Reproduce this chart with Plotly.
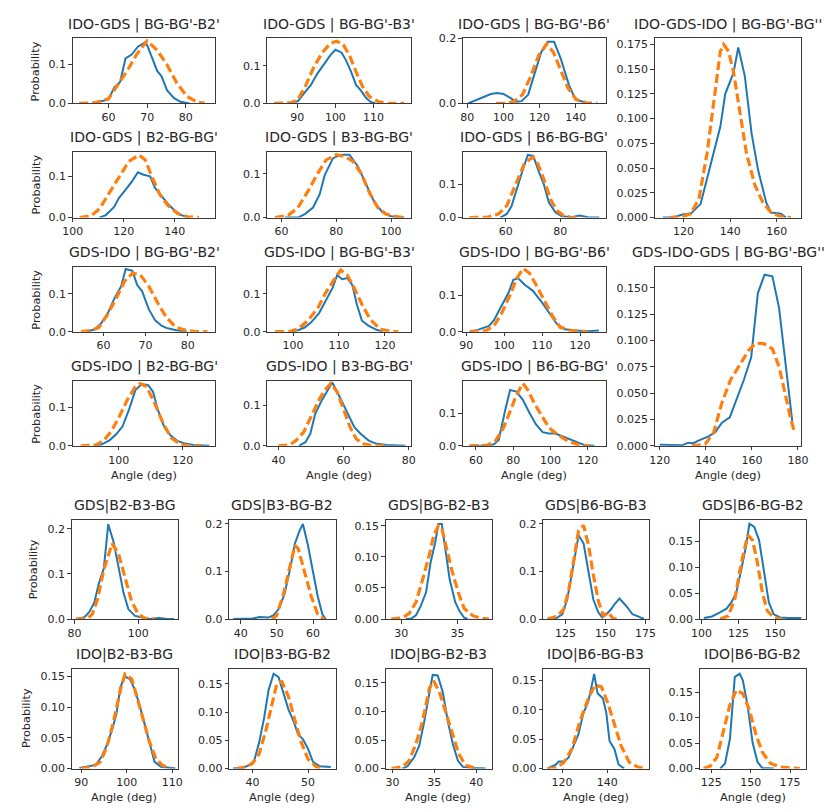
import plotly.graph_objects as go

# ---------------- data ----------------
# Top block: IDO-GDS / GDS-IDO pair angles
t_ido_gds_bg_b2p = "IDO-GDS | BG-BG'-B2'"
A_bx = [55.8, 58, 60, 61.5, 63, 64.4, 66, 67.6, 69.3, 70, 71.5, 72.6, 73.7, 75.2, 76.9, 78.6, 81]
A_by = [0, 0.005, 0.01, 0.041, 0.055, 0.115, 0.125, 0.145, 0.155, 0.149, 0.11, 0.083, 0.07, 0.033, 0.014, 0.004, 0]
A_ox = [52.4, 56.6, 60, 62.5, 65, 67.2, 70, 72.6, 75.2, 77.7, 80.3, 82.8, 84.9]
A_oy = [0, 0.002, 0.012, 0.048, 0.086, 0.124, 0.16, 0.136, 0.098, 0.052, 0.018, 0.004, 0]

t_ido_gds_bg_b3p = "IDO-GDS | BG-BG'-B3'"
B_bx = [87.6, 90.2, 91.9, 93.6, 95.3, 97, 98.7, 100, 101.6, 102.8, 104.1, 105.4, 106.7, 108, 109.2, 110.5]
B_by = [0, 0.006, 0.028, 0.049, 0.079, 0.105, 0.128, 0.142, 0.135, 0.114, 0.084, 0.049, 0.034, 0.015, 0.004, 0]
B_ox = [84, 88.5, 90.2, 92.3, 94.4, 96.6, 98.7, 100.3, 102, 103.7, 105.4, 107.1, 108.8, 111.4, 114, 118]
B_oy = [0, 0.002, 0.01, 0.049, 0.097, 0.135, 0.159, 0.165, 0.157, 0.127, 0.084, 0.045, 0.019, 0.004, 0, 0]

t_ido_gds_bg_b6p = "IDO-GDS | BG-BG'-B6'"
C_bx = [80.4, 84, 88.5, 93, 96.6, 100, 103.8, 107, 110, 113.7, 116.4, 120.9, 124.5, 128, 131.7, 136.2, 139.8, 143.4, 147]
C_by = [0, 0.009, 0.019, 0.029, 0.032, 0.029, 0.017, 0.005, 0.007, 0.027, 0.077, 0.158, 0.19, 0.19, 0.138, 0.057, 0.012, 0.005, 0]
C_ox = [96, 102, 106, 110.5, 115, 119.5, 124, 127.6, 131.3, 135.7, 140.3, 145.7, 152]
C_oy = [0, 0, 0.007, 0.027, 0.082, 0.148, 0.183, 0.158, 0.108, 0.047, 0.012, 0.002, 0]

t_ido_gds_b2_bg = "IDO-GDS | B2-BG-BG'"
D_bx = [110.5, 113, 116.2, 118.2, 120.8, 123.3, 125.6, 127.8, 130.4, 132.3, 134.9, 137.4, 140, 142.6, 145.8]
D_by = [0, 0.006, 0.025, 0.048, 0.068, 0.088, 0.11, 0.104, 0.1, 0.072, 0.052, 0.033, 0.017, 0.006, 0]
D_ox = [102.8, 107.3, 110.5, 114.4, 118.2, 122, 126, 128.5, 131, 134.2, 137.4, 141.3, 145.1, 149.6]
D_oy = [0, 0.005, 0.021, 0.06, 0.1, 0.136, 0.152, 0.14, 0.1, 0.056, 0.029, 0.009, 0.002, 0]

t_ido_gds_b3_bg = "IDO-GDS | B3-BG-BG'"
E_bx = [61.2, 66, 68.5, 71.5, 73.9, 75.8, 78.8, 81.8, 84.8, 87.9, 90.9, 93.9, 96.9, 99.9, 104.8]
E_by = [0, 0, 0.008, 0.023, 0.053, 0.098, 0.136, 0.144, 0.144, 0.117, 0.076, 0.035, 0.012, 0.003, 0]
E_ox = [57.6, 62.4, 66, 69.7, 73.3, 76.3, 80, 83, 86, 89, 92.1, 95.1, 98.1, 101.7, 104.8]
E_oy = [0, 0.005, 0.023, 0.061, 0.102, 0.132, 0.144, 0.14, 0.129, 0.102, 0.057, 0.023, 0.008, 0.002, 0]

t_ido_gds_b6_bg = "IDO-GDS | B6-BG-BG'"
F_bx = [58, 60.4, 62.1, 63.9, 66.3, 68.1, 70.1, 72.3, 74, 75.8, 78.2, 80.6, 84.2, 87.1, 90.1, 94.3]
F_by = [0, 0.011, 0.034, 0.085, 0.145, 0.189, 0.186, 0.135, 0.1, 0.046, 0.016, 0.004, 0.001, 0.006, 0.001, 0]
F_ox = [46.7, 53.2, 57.4, 60.4, 63.9, 66.9, 69.9, 71.7, 74, 76.4, 78.8, 81.2, 84.2, 87.7]
F_oy = [0, 0.001, 0.011, 0.036, 0.105, 0.164, 0.182, 0.164, 0.115, 0.055, 0.021, 0.006, 0, 0]

t_ido_gds_ido = "IDO-GDS-IDO | BG-BG'-BG''"
G_bx = [111.1, 115.4, 119.6, 123.1, 127.3, 132.3, 135.8, 137.9, 140, 141.4, 143.5, 146.3, 149.2, 152, 155.5, 157.6, 161.8, 163.9]
G_by = [0, 0, 0.003, 0.004, 0.0136, 0.058, 0.092, 0.125, 0.138, 0.146, 0.172, 0.143, 0.085, 0.048, 0.015, 0.005, 0.004, 0]
G_ox = [113.9, 119.6, 123.1, 126.6, 130.1, 133, 135.8, 137.2, 139.3, 141.4, 144.2, 147, 150.6, 154.1, 157.6, 161.8, 166.1]
G_oy = [0, 0.001, 0.004, 0.019, 0.065, 0.118, 0.168, 0.175, 0.168, 0.148, 0.108, 0.065, 0.033, 0.015, 0.005, 0.001, 0]

t_gds_ido_bg_b2p = "GDS-IDO | BG-BG'-B2'"
H_bx = [56.2, 58.1, 59.6, 61.1, 62.7, 64.2, 65.3, 66.9, 68, 69.2, 70.8, 72.3, 73.8, 74.9, 76, 77.6, 79.8]
H_by = [0, 0.007, 0.024, 0.05, 0.09, 0.12, 0.166, 0.161, 0.124, 0.107, 0.059, 0.03, 0.016, 0.01, 0.007, 0.003, 0]
H_ox = [54.7, 56.9, 58.9, 60.8, 63.1, 65, 66.9, 68.8, 70.8, 73.1, 75, 77.3, 79.8, 82, 84.7]
H_oy = [0, 0.003, 0.011, 0.042, 0.09, 0.133, 0.155, 0.15, 0.12, 0.072, 0.037, 0.011, 0.003, 0, 0]

t_gds_ido_bg_b3p = "GDS-IDO | BG-BG'-B3'"
I_bx = [99.6, 101.1, 102.5, 103.9, 105.7, 107.1, 108.6, 109.6, 110.7, 111.8, 112.9, 113.9, 115, 116.4, 118.2, 119.6]
I_by = [0, 0.004, 0.011, 0.024, 0.05, 0.081, 0.116, 0.15, 0.139, 0.142, 0.124, 0.072, 0.029, 0.016, 0.005, 0]
I_ox = [96.1, 99, 101.1, 103.2, 105.4, 107.1, 108.9, 110.4, 111.8, 113.2, 115, 116.8, 118.9, 121.1, 122.9]
I_oy = [0, 0, 0.007, 0.029, 0.063, 0.103, 0.137, 0.163, 0.15, 0.119, 0.072, 0.033, 0.007, 0.001, 0]

t_gds_ido_bg_b6p = "GDS-IDO | BG-BG'-B6'"
J_bx = [90.9, 93, 96, 97.3, 98.8, 99.8, 101.1, 102.4, 103.7, 105.4, 107.5, 109.7, 111.8, 113.9, 116.1, 118.6, 122, 125]
J_by = [0, 0.005, 0.016, 0.032, 0.062, 0.08, 0.107, 0.144, 0.148, 0.13, 0.114, 0.085, 0.053, 0.021, 0.007, 0.003, 0.001, 0.003]
J_ox = [90.9, 95.2, 97.3, 99.4, 101.6, 103.3, 105, 106.7, 108.4, 110.6, 112.7, 114.8, 117.8, 122]
J_oy = [0, 0.003, 0.016, 0.053, 0.103, 0.148, 0.175, 0.162, 0.13, 0.085, 0.044, 0.012, 0.003, 0]

t_gds_ido_b2_bg = "GDS-IDO | B2-BG-BG'"
K_bx = [92.2, 94.7, 97.2, 99.2, 101.2, 103.2, 105.2, 107.2, 109.2, 110.7, 112.2, 114.3, 116.3, 118.3, 120.3, 123.3, 128.3]
K_by = [0, 0.004, 0.015, 0.03, 0.051, 0.094, 0.145, 0.161, 0.158, 0.141, 0.094, 0.047, 0.026, 0.013, 0.007, 0.002, 0]
K_ox = [88.1, 92.7, 95.2, 97.7, 100.2, 102.7, 105.2, 106.7, 108.7, 111.2, 113.8, 116.3, 119.3, 122.3, 125.8]
K_oy = [0, 0.002, 0.013, 0.038, 0.077, 0.12, 0.154, 0.162, 0.154, 0.111, 0.06, 0.021, 0.004, 0, 0]

t_gds_ido_b3_bg = "GDS-IDO | B3-BG-BG'"
L_bx = [46.3, 48.3, 49.8, 51.3, 53.3, 55.3, 56.5, 57.8, 59.8, 61.8, 63.3, 65.2, 67.7, 70.2, 73.2, 79]
L_by = [0, 0.009, 0.03, 0.079, 0.112, 0.14, 0.156, 0.137, 0.104, 0.071, 0.046, 0.03, 0.013, 0.005, 0.002, 0]
L_ox = [40, 43.4, 45.4, 47.8, 50.2, 52.7, 54.6, 56.1, 58, 60, 62, 63.9, 65.9, 68.8, 72.7]
L_oy = [0, 0.002, 0.013, 0.034, 0.075, 0.117, 0.141, 0.154, 0.133, 0.092, 0.046, 0.017, 0.005, 0.001, 0]

t_gds_ido_b6_bg = "GDS-IDO | B6-BG-BG'"
M_bx = [56.5, 66.1, 69.6, 72.2, 75.7, 78.3, 81.7, 85.2, 88.7, 92.2, 95.7, 99.1, 102.6, 106.1, 109.6, 113.9, 118.3, 123.5]
M_by = [0, 0, 0.005, 0.018, 0.111, 0.172, 0.167, 0.141, 0.101, 0.066, 0.042, 0.038, 0.038, 0.03, 0.02, 0.01, 0.002, 0]
M_ox = [56.5, 66.1, 70.4, 74.8, 78.3, 81.7, 85.2, 87.8, 91.3, 95.7, 99.1, 102.6, 107, 111.3, 115.7, 120.9]
M_oy = [0, 0.002, 0.015, 0.056, 0.106, 0.157, 0.192, 0.172, 0.131, 0.086, 0.056, 0.04, 0.022, 0.01, 0.002, 0]

t_gds_ido_gds = "GDS-IDO-GDS | BG-BG'-BG''"
N_bx = [120, 122.9, 126.6, 129.9, 132.4, 134.6, 136.8, 139, 141.2, 144.1, 147, 150.4, 153.6, 156.5, 159.7, 162.6, 165.5, 168.9, 171.8, 174.7, 177.6]
N_by = [0.001, 0.001, 0.0006, 0.0006, 0.003, 0.0025, 0.005, 0.007, 0.009, 0.013, 0.022, 0.027, 0.045, 0.0625, 0.084, 0.145, 0.1625, 0.161, 0.131, 0.078, 0.022]
N_ox = [133.9, 139.7, 143.4, 147, 150.7, 155, 158.7, 161.6, 165.2, 168.9, 171.8, 174.7, 176.9, 178.4]
N_oy = [0, 0.0015, 0.0125, 0.041, 0.0625, 0.078, 0.091, 0.0975, 0.097, 0.092, 0.075, 0.047, 0.025, 0.014]

# Bottom block: single-molecule angles
t_gds_b2_b3_bg = "GDS|B2-B3-BG"
P_bx = [80.5, 83.1, 84.6, 86.2, 87.7, 89.2, 90.6, 92.3, 93.8, 95.4, 96.9, 99, 101, 103.6, 106.7, 109.2, 111.3]
P_by = [0, 0.004, 0.015, 0.036, 0.08, 0.112, 0.21, 0.17, 0.116, 0.058, 0.022, 0.007, 0.004, 0, 0.002, 0, 0]
P_ox = [80.5, 84.1, 85.6, 87.2, 89.2, 91.8, 93.8, 95.9, 97.9, 100, 102, 105.1]
P_oy = [0, 0.001, 0.011, 0.043, 0.109, 0.167, 0.145, 0.091, 0.04, 0.011, 0.002, 0]

t_gds_b3_bg_b2 = "GDS|B3-BG-B2"
Q_bx = [37.9, 40.6, 43.3, 45.1, 47.7, 49.1, 50.5, 52.1, 53.6, 55, 56.3, 57.2, 58.6, 59.9, 61.3, 62.6, 63.5]
Q_by = [0, 0.001, 0.001, 0.004, 0.003, 0.008, 0.021, 0.052, 0.103, 0.159, 0.186, 0.2, 0.155, 0.103, 0.048, 0.01, 0]
Q_ox = [48.6, 49.9, 51.7, 53.6, 55, 55.9, 57.7, 59.5, 61.3, 63.1]
Q_oy = [0, 0.007, 0.048, 0.11, 0.155, 0.148, 0.1, 0.048, 0.01, 0]

t_gds_bg_b2_b3 = "GDS|BG-B2-B3"
R_bx = [30.4, 30.9, 31.3, 31.7, 32.2, 32.6, 33, 33.3, 33.6, 33.9, 34.3, 34.8, 35.2, 35.6, 35.9]
R_by = [0, 0.001, 0.006, 0.02, 0.043, 0.091, 0.122, 0.153, 0.153, 0.117, 0.064, 0.027, 0.012, 0.002, 0]
R_ox = [29.1, 30.1, 30.7, 31.3, 31.9, 32.5, 32.9, 33.3, 33.6, 34, 34.5, 35.1, 35.6, 36.4, 37.2, 37.8]
R_oy = [0, 0.002, 0.009, 0.027, 0.064, 0.104, 0.136, 0.15, 0.146, 0.117, 0.078, 0.041, 0.017, 0.005, 0.001, 0]

t_gds_b6_bg_b3 = "GDS|B6-BG-B3"
S_bx = [113.8, 118.9, 123, 126.1, 129.1, 133.2, 136.3, 139.4, 142.4, 145.5, 148, 150.6, 153.6, 155.6, 158.7, 162.8, 166.8, 169.9, 174]
S_by = [0, 0.001, 0.01, 0.041, 0.097, 0.176, 0.159, 0.097, 0.041, 0.014, 0.003, 0.01, 0.021, 0.031, 0.043, 0.028, 0.01, 0.006, 0]
S_ox = [113.8, 119.9, 124, 127.1, 130.2, 133.2, 136.3, 139.4, 142.4, 145.5, 148.6, 151.6, 154.7, 157.8]
S_oy = [0, 0.006, 0.021, 0.062, 0.124, 0.186, 0.197, 0.155, 0.093, 0.038, 0.007, 0.014, 0.001, 0]

t_gds_b6_bg_b2 = "GDS|B6-BG-B2"
T_bx = [101.5, 107, 112.5, 116.9, 120.2, 123.5, 126.9, 130.2, 132.4, 135.7, 139, 142.3, 145.6, 148.9, 153.3, 158.8, 167.6]
T_by = [0.002, 0.005, 0.013, 0.02, 0.032, 0.051, 0.095, 0.142, 0.184, 0.178, 0.152, 0.089, 0.032, 0.009, 0.003, 0.002, 0.002]
T_ox = [112.5, 118.1, 122.5, 126.9, 131.3, 134.6, 137.9, 141.2, 144.5, 148.9, 154.4]
T_oy = [0, 0.006, 0.038, 0.108, 0.162, 0.152, 0.108, 0.051, 0.016, 0.003, 0]

t_ido_b2_b3_bg = "IDO|B2-B3-BG"
U_bx = [89.6, 91.4, 93.2, 94.6, 95.7, 96.8, 97.7, 98.6, 99.6, 100.7, 101.8, 102.9, 103.9, 105, 106.1, 107.5, 109.3, 110.7]
U_by = [0.001, 0.004, 0.006, 0.021, 0.04, 0.064, 0.088, 0.133, 0.15, 0.146, 0.128, 0.101, 0.072, 0.043, 0.011, 0.003, 0.001, 0]
U_ox = [89.9, 92.4, 94.2, 95.7, 97.1, 98.6, 99.6, 101.1, 102.1, 103.6, 105, 106.4, 107.9, 109.6]
U_oy = [0, 0.003, 0.011, 0.037, 0.077, 0.128, 0.154, 0.146, 0.12, 0.08, 0.043, 0.016, 0.005, 0.001]

t_ido_b3_bg_b2 = "IDO|B3-BG-B2"
V_bx = [36.5, 38.2, 39.4, 40.3, 41.2, 42.1, 42.9, 43.8, 44.7, 45.6, 46.5, 47.4, 48.2, 49.1, 50, 50.9, 52.1, 54.1]
V_by = [0, 0.001, 0.006, 0.014, 0.046, 0.09, 0.139, 0.168, 0.162, 0.133, 0.104, 0.084, 0.061, 0.052, 0.035, 0.012, 0.004, 0.003]
V_ox = [37.1, 38.8, 40, 41.2, 42.4, 43.5, 44.4, 45.3, 46.5, 47.6, 48.8, 50, 51.5, 52.6]
V_oy = [0, 0.003, 0.009, 0.026, 0.067, 0.116, 0.151, 0.154, 0.127, 0.087, 0.046, 0.017, 0.003, 0]

t_ido_bg_b2_b3 = "IDO|BG-B2-B3"
X_bx = [31.2, 31.8, 32.6, 33.2, 33.8, 34.4, 34.8, 35.4, 36, 36.6, 37.2, 37.8, 38.4, 39.6, 41.1]
X_by = [0, 0.004, 0.02, 0.04, 0.083, 0.134, 0.164, 0.163, 0.134, 0.083, 0.043, 0.014, 0.003, 0.001, 0]
X_ox = [29.9, 31.2, 32, 32.8, 33.6, 34.4, 34.9, 35.6, 36.4, 37.2, 37.9, 38.7, 39.7, 40.1]
X_oy = [0, 0.003, 0.014, 0.043, 0.083, 0.14, 0.154, 0.134, 0.097, 0.057, 0.026, 0.006, 0.001, 0]

t_ido_b6_bg_b3 = "IDO|B6-BG-B3"
Y_bx = [113.5, 114.9, 117, 118.5, 120.7, 122.9, 125.1, 127.2, 129.4, 131.6, 133, 134.2, 135.7, 138.1, 139.6, 141, 143.2, 145, 147.5]
Y_by = [0, 0.003, 0.006, 0.012, 0.012, 0.019, 0.039, 0.058, 0.094, 0.114, 0.139, 0.161, 0.128, 0.119, 0.094, 0.047, 0.033, 0.007, 0]
Y_ox = [113.5, 117, 120.7, 124.3, 127.9, 131.6, 134.5, 137.4, 140.3, 143.2, 146.1, 149.7, 153.3, 156.2]
Y_oy = [0, 0.001, 0.01, 0.033, 0.081, 0.119, 0.142, 0.139, 0.111, 0.075, 0.039, 0.011, 0.003, 0]

t_ido_b6_bg_b2 = "IDO|B6-BG-B2"
Z_bx = [130.6, 133.7, 136.8, 139.9, 143, 145, 148.1, 151.2, 154.3, 157.4, 164.7]
Z_by = [0, 0.01, 0.058, 0.18, 0.186, 0.173, 0.122, 0.051, 0.013, 0.001, 0]
Z_ox = [120.2, 124.4, 128.5, 132.6, 136.8, 140.9, 145, 149.2, 153.3, 157.4, 162.6, 168.8, 181.2]
Z_oy = [0, 0.005, 0.022, 0.07, 0.125, 0.154, 0.147, 0.115, 0.067, 0.032, 0.01, 0.003, 0]

# tick values / labels
yt_1 = [0, 0.1]; yl_1 = ["0.0", "0.1"]
yt_2 = [0, 0.2]; yl_2 = ["0.0", "0.2"]
yt_3 = [0, 0.1, 0.2]; yl_3 = ["0.0", "0.1", "0.2"]
yt_4 = [0, 0.05, 0.10, 0.15]; yl_4 = ["0.00", "0.05", "0.10", "0.15"]
yt_5 = [0, 0.025, 0.05, 0.075, 0.1, 0.125, 0.15, 0.175]
yl_5 = ["0.000", "0.025", "0.050", "0.075", "0.100", "0.125", "0.150", "0.175"]
yt_6 = yt_5[:7]; yl_6 = yl_5[:7]

# ---------------- panel layout (pixel boxes: left, right, top, bottom) ----------------
panels = [
    (t_ido_gds_bg_b2p, A_bx, A_by, A_ox, A_oy, (63, 209, 33, 99), [50.7, 87.7], 0.166, [60, 70, 80], yt_1, yl_1),
    (t_ido_gds_bg_b3p, B_bx, B_by, B_ox, B_oy, (262, 409, 33, 99), [82.2, 119.8], 0.172, [90, 100, 110, 120], yt_1, yl_1),
    (t_ido_gds_bg_b6p, C_bx, C_by, C_ox, C_oy, (462, 608, 33, 99), [77.6, 156.6], 0.2, [80, 100, 120, 140], yt_2, yl_2),
    (t_ido_gds_ido, G_bx, G_by, G_ox, G_oy, (658, 808, 33, 215), [107.6, 170.6], 0.181, [120, 140, 160], yt_5, yl_5),
    (t_ido_gds_b2_bg, D_bx, D_by, D_ox, D_oy, (63, 209, 148, 215), [100, 156], 0.16, [100, 120, 140], yt_1, yl_1),
    (t_ido_gds_b3_bg, E_bx, E_by, E_ox, E_oy, (262, 409, 148, 215), [54.8, 107.3], 0.151, [60, 80, 100], yt_1, yl_1),
    (t_ido_gds_b6_bg, F_bx, F_by, F_ox, F_oy, (462, 608, 148, 215), [44.3, 96.7], 0.199, [60, 80], yt_1, yl_1),
    (t_gds_ido_bg_b2p, H_bx, H_by, H_ox, H_oy, (63, 209, 265, 331), [52.7, 86.6], 0.172, [60, 70, 80], yt_1, yl_1),
    (t_gds_ido_bg_b3p, I_bx, I_by, I_ox, I_oy, (262, 409, 265, 331), [94.4, 125.7], 0.172, [100, 110, 120], yt_1, yl_1),
    (t_gds_ido_bg_b6p, J_bx, J_by, J_ox, J_oy, (462, 608, 265, 331), [89.1, 126.8], 0.18, [90, 100, 110, 120], yt_1, yl_1),
    (t_gds_ido_gds, N_bx, N_by, N_ox, N_oy, (658, 808, 265, 447), [117.8, 181.5], 0.170, [120, 140, 160, 180], yt_6, yl_6),
    (t_gds_ido_b2_bg, K_bx, K_by, K_ox, K_oy, (63, 209, 381, 447), [85.6, 130.2], 0.169, [100, 120], yt_1, yl_1),
    (t_gds_ido_b3_bg, L_bx, L_by, L_ox, L_oy, (262, 409, 381, 447), [36.6, 80.7], 0.16, [40, 60, 80], yt_1, yl_1),
    (t_gds_ido_b6_bg, M_bx, M_by, M_ox, M_oy, (462, 608, 381, 447), [53, 129.6], 0.2, [60, 80, 100, 120], yt_1, yl_1),
    (t_gds_b2_b3_bg, P_bx, P_by, P_ox, P_oy, (62, 171, 522, 623), [79.1, 112.6], 0.22, [80, 100], yt_3, yl_3),
    (t_gds_b3_bg_b2, Q_bx, Q_by, Q_ox, Q_oy, (223, 332, 522, 623), [36.8, 66.3], 0.209, [40, 50, 60], yt_3, yl_3),
    (t_gds_bg_b2_b3, R_bx, R_by, R_ox, R_oy, (383, 492, 522, 623), [28.6, 38.1], 0.16, [30, 35], yt_4, yl_4),
    (t_gds_b6_bg_b3, S_bx, S_by, S_ox, S_oy, (544, 652, 522, 623), [111.1, 177], 0.209, [125, 150, 175], yt_3, yl_3),
    (t_gds_b6_bg_b2, T_bx, T_by, T_ox, T_oy, (704, 813, 522, 623), [98.7, 171], 0.192, [100, 125, 150], yt_4, yl_4),
    (t_ido_b2_b3_bg, U_bx, U_by, U_ox, U_oy, (62, 171, 674, 775), [87.9, 111.3], 0.162, [90, 100, 110], yt_4, yl_4),
    (t_ido_b3_bg_b2, V_bx, V_by, V_ox, V_oy, (223, 332, 674, 775), [35.8, 55], 0.176, [40, 50], yt_4, yl_4),
    (t_ido_bg_b2_b3, X_bx, X_by, X_ox, X_oy, (383, 492, 674, 775), [29.2, 41.9], 0.174, [30, 35, 40], yt_4, yl_4),
    (t_ido_b6_bg_b3, Y_bx, Y_by, Y_ox, Y_oy, (544, 652, 674, 775), [111.6, 158.4], 0.169, [120, 140], yt_4, yl_4),
    (t_ido_b6_bg_b2, Z_bx, Z_by, Z_ox, Z_oy, (704, 813, 674, 775), [117.6, 185.3], 0.195, [125, 150, 175], yt_4, yl_4),
]

W, H = 827, 812
FONT = "DejaVu Sans"
BLUE = "#1f77b4"
ORANGE = "#ff7f0e"
TXT = "#262626"
FRAME = "#3a3a3a"
TICK_SIZE = 11
TITLE_SIZE = 14
LABEL_SIZE = 11.3

fig = go.Figure()
layout = dict(
    width=W, height=H,
    margin=dict(l=0, r=0, t=0, b=0),
    paper_bgcolor="white", plot_bgcolor="white",
    showlegend=False,
    font=dict(family=FONT, size=TICK_SIZE, color=TXT),
)
annotations = []

for i, (title, bx, by, ox, oy, box, xr, ytop, xt, yt, yl) in enumerate(panels):
    k = "" if i == 0 else str(i + 1)
    l, r, t, b = box
    fig.add_trace(go.Scatter(x=bx, y=by, mode="lines", xaxis="x" + k, yaxis="y" + k,
                             line=dict(color=BLUE, width=2), hoverinfo="skip"))
    fig.add_trace(go.Scatter(x=ox, y=oy, mode="lines", xaxis="x" + k, yaxis="y" + k,
                             line=dict(color=ORANGE, width=3.2, dash="9px,4px"), hoverinfo="skip"))
    common = dict(showline=True, mirror=True, linecolor=FRAME, linewidth=1,
                  showgrid=False, zeroline=False, ticks="outside", ticklen=3.5,
                  tickwidth=0.8, tickcolor=FRAME,
                  tickfont=dict(family=FONT, size=TICK_SIZE, color=TXT),
                  fixedrange=True)
    layout["xaxis" + k] = dict(domain=[l / W, r / W], anchor="y" + k, range=xr,
                               tickmode="array", tickvals=xt, ticktext=[str(v) for v in xt], **common)
    layout["yaxis" + k] = dict(domain=[1 - b / H, 1 - t / H], anchor="x" + k, range=[0, ytop],
                               tickmode="array", tickvals=yt, ticktext=yl, **common)
    annotations.append(dict(text=title, x=(l + r) / 2 / W, y=1 - (t - 4) / H, xref="paper", yref="paper",
                            xanchor="center", yanchor="bottom", showarrow=False,
                            font=dict(family=FONT, size=TITLE_SIZE, color=TXT)))

# y-axis labels
for yc, xc in [(66, 26), (181, 26), (298, 26), (414, 26), (572, 23), (724, 16)]:
    annotations.append(dict(text="Probability", x=xc / W, y=1 - yc / H, xref="paper", yref="paper",
                            xanchor="center", yanchor="middle", textangle=-90, showarrow=False,
                            font=dict(family=FONT, size=LABEL_SIZE, color=TXT)))
# x-axis labels
for xc in [136, 335, 535, 733]:
    annotations.append(dict(text="Angle (deg)", x=xc / W, y=1 - 477 / H, xref="paper", yref="paper",
                            xanchor="center", yanchor="middle", showarrow=False,
                            font=dict(family=FONT, size=LABEL_SIZE, color=TXT)))
for xc in [116, 277, 437, 598, 758]:
    annotations.append(dict(text="Angle (deg)", x=xc / W, y=1 - 804 / H, xref="paper", yref="paper",
                            xanchor="center", yanchor="middle", showarrow=False,
                            font=dict(family=FONT, size=LABEL_SIZE, color=TXT)))

layout["annotations"] = annotations
fig.update_layout(**layout)
fig.write_html("out.html")
